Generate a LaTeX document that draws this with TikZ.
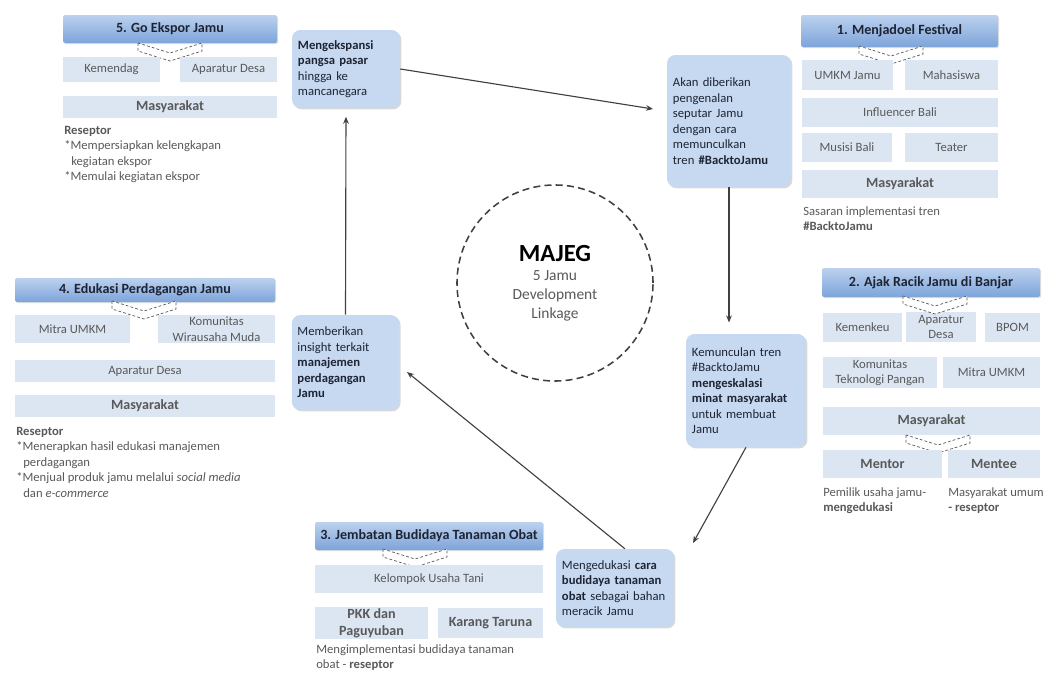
\documentclass[tikz,border=0pt]{standalone}
\usepackage{fontspec}
\setmainfont{Carlito}
\usetikzlibrary{shadows,arrows.meta}

\definecolor{hdrtop}{HTML}{BCD1EE}
\definecolor{hdrbot}{HTML}{7DA4DA}
\definecolor{subfill}{HTML}{DCE6F2}
\definecolor{subtext}{HTML}{595959}
\definecolor{flowfill}{HTML}{C6D9F1}
\definecolor{flowtext}{HTML}{1E2433}
\definecolor{linegray}{HTML}{404040}

\tikzset{
  hdr/.style={rectangle,rounded corners=1.5pt,top color=hdrtop,bottom color=hdrbot,
    drop shadow={opacity=.25,shadow xshift=.8pt,shadow yshift=-.8pt},
    font=\bfseries,text=flowtext,inner sep=1pt},
  sub/.style={rectangle,fill=subfill,text=subtext,align=center,inner sep=1pt},
  flow/.style={rectangle,rounded corners=6pt,fill=flowfill,
    drop shadow={opacity=.3,shadow xshift=1pt,shadow yshift=-1pt},
    text=flowtext,align=left,inner xsep=4pt,inner ysep=2pt},
  note/.style={anchor=north west,align=left,inner sep=0pt,text=subtext},
  chev/.style={draw=subtext,dash pattern=on 2pt off 1.5pt,fill=white,line width=.5pt},
  link/.style={draw=linegray,line width=.8pt,-{Stealth[length=5pt,width=4pt]}}
}

% box from corner (x1,y1) to corner (x2,y2), in pixels
\newcommand{\pbox}[7]{%
  \node[#6,minimum width={(#4-#2)*0.025cm},minimum height={(#5-#3)*0.025cm}]
    (#1) at ({(#2+#4)/2},{(#3+#5)/2}) {#7};}
\newcommand{\chev}[2]{%
  \draw[chev] (#1-32,#2) -- ++(0,8) -- ++(32,10) -- ++(32,-10) -- ++(0,-8) -- ++(-32,10) -- cycle;}

\begin{document}
\begin{tikzpicture}[x=0.025cm,y=-0.025cm,font=\fontsize{9}{11}\selectfont]
\useasboundingbox (0,0) rectangle (1044,677);

%5. Go Ekspor
\begin{scope}
\pbox{hdr5}{63}{15}{277}{43}{hdr}{5. Go Ekspor Jamu}
\chev{170}{43}
\pbox{kemendag}{63}{57}{160}{82}{sub}{Kemendag}
\pbox{desa5}{180}{57}{277}{82}{sub}{Aparatur Desa}
\pbox{mas5}{63}{96}{277}{118}{sub,font=\bfseries}{Masyarakat}
\node[note] (note5) at (64,126) {\textbf{Reseptor}\\*Mempersiapkan kelengkapan\\\hspace*{5pt}kegiatan ekspor\\*Memulai kegiatan ekspor};
\end{scope}

%1. Menjadoel Festival
\begin{scope}
\pbox{hdr1}{801}{15}{998}{47}{hdr}{1. Menjadoel Festival}
\chev{891}{46}
\pbox{umkm1}{802}{60}{893}{90}{sub}{UMKM Jamu}
\pbox{mhs}{905}{60}{998}{90}{sub}{Mahasiswa}
\pbox{influ}{802}{98}{998}{127}{sub}{Influencer Bali}
\pbox{musisi}{802}{133}{892}{162}{sub}{Musisi Bali}
\pbox{teater}{905}{133}{998}{162}{sub}{Teater}
\pbox{mas1}{802}{170}{998}{198}{sub,font=\bfseries}{Masyarakat}
\node[note] (note1) at (803,206) {Sasaran implementasi tren\\\textbf{\#BacktoJamu}};
\end{scope}

%2. Ajak Racik Jamu
\begin{scope}
\pbox{hdr2}{822}{268}{1040}{297}{hdr}{2. Ajak Racik Jamu di Banjar}
\pbox{kemenkeu}{823}{313}{902}{342}{sub}{Kemenkeu}
\pbox{desa2}{906}{312}{976}{342}{sub}{Aparatur\\Desa}
\pbox{bpom}{985}{313}{1040}{342}{sub}{BPOM}
\chev{935}{296}
\pbox{tekpangan}{823}{357}{937}{388}{sub}{Komunitas\\Teknologi Pangan}
\pbox{umkm2}{943}{357}{1040}{388}{sub}{Mitra UMKM}
\pbox{mas2}{823}{407}{1040}{435}{sub,font=\bfseries}{Masyarakat}
\chev{938}{435}
\pbox{mentor}{823}{450}{942}{478}{sub,font=\bfseries}{Mentor}
\pbox{mentee}{948}{450}{1040}{478}{sub,font=\bfseries}{Mentee}
\node[note] (note2a) at (823,487) {Pemilik usaha jamu-\\\textbf{mengedukasi}};
\node[note] (note2b) at (948,487) {Masyarakat umum\\\textbf{- reseptor}};
\end{scope}

%4. Edukasi Perdagangan
\begin{scope}
\pbox{hdr4}{15}{278}{275}{302}{hdr}{4. Edukasi Perdagangan Jamu}
\chev{144}{301}
\pbox{umkm4}{15}{315}{130}{343}{sub}{Mitra UMKM}
\pbox{wirausaha}{158}{315}{275}{343}{sub}{Komunitas\\Wirausaha Muda}
\pbox{desa4}{15}{360}{275}{382}{sub}{Aparatur Desa}
\pbox{mas4}{15}{395}{275}{417}{sub,font=\bfseries}{Masyarakat}
\node[note] (note4) at (16,427) {\textbf{Reseptor}\\*Menerapkan hasil edukasi manajemen\\\hspace*{5pt}perdagangan\\*Menjual produk jamu melalui \textit{social media}\\\hspace*{5pt}dan \textit{e-commerce}};
\end{scope}

%3. Jembatan Budidaya
\begin{scope}
\pbox{hdr3}{315}{522}{543}{550}{hdr}{3. Jembatan Budidaya Tanaman Obat}
\chev{415}{549}
\pbox{tani}{315}{565}{543}{593}{sub}{Kelompok Usaha Tani}
\pbox{pkk}{315}{608}{428}{638}{sub,font=\bfseries}{PKK dan\\Paguyuban}
\pbox{taruna}{438}{608}{543}{638}{sub,font=\bfseries}{Karang Taruna}
\node[note] (note3) at (316,644) {Mengimplementasi budidaya tanaman\\obat - \textbf{reseptor}};
\end{scope}

%siklus
\pbox{ekspansi}{292}{30}{400}{108}{flow,text width=2.4cm}{\textbf{Mengekspansi}\\\textbf{pangsa pasar}\\hingga ke\\mancanegara}
\pbox{kenal}{667}{55}{791}{187}{flow,text width=2.8cm}{Akan diberikan\\pengenalan\\seputar Jamu\\dengan cara\\memunculkan\\tren \textbf{\#BacktoJamu}}
\pbox{eskalasi}{686}{334}{806}{447}{flow,text width=2.7cm}{Kemunculan tren\\\#BacktoJamu\\\textbf{mengeskalasi}\\\textbf{minat masyarakat}\\untuk membuat\\Jamu}
\pbox{budidaya}{556}{549}{674}{627}{flow,text width=2.65cm}{Mengedukasi \textbf{cara}\\\textbf{budidaya tanaman}\\\textbf{obat} sebagai bahan\\meracik Jamu}
\pbox{insight}{292}{315}{399}{410}{flow,text width=2.4cm}{Memberikan\\insight terkait\\\textbf{manajemen}\\\textbf{perdagangan}\\\textbf{Jamu}}

\node[circle,draw=linegray,dash pattern=on 5pt off 3pt,line width=1.1pt,minimum size=4.9cm,
  inner sep=0pt,align=center,text=subtext,font=\fontsize{11}{13.5}\selectfont] (majeg) at (555,283)
  {\textcolor{black}{\fontsize{17.5}{21}\selectfont\bfseries MAJEG}\\5 Jamu\\Development\\Linkage};

\coordinate (t1) at (653,109);
\coordinate (t3) at (693,543);
\coordinate (t4) at (407,372);
\draw[link] (ekspansi.east) -- (t1);
\draw[link,shorten >=8pt] (kenal.south) -- (kenal.south |- eskalasi.north);
\draw[link] (eskalasi.south) -- (t3);
\draw[link] ([xshift=7pt]budidaya.north) -- (t4);
\draw[link,shorten >=6pt] (insight.north) -- (ekspansi.south);

\end{tikzpicture}
\end{document}
